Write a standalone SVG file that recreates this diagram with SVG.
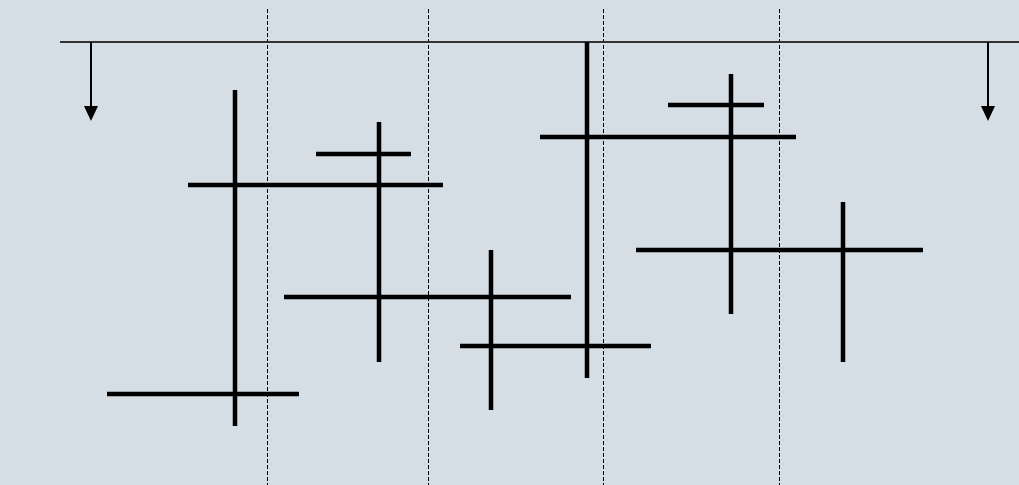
<svg xmlns="http://www.w3.org/2000/svg" width="1019" height="485" viewBox="0 0 1019 485">
<style>
.bar{stroke:#000;stroke-width:4.5;stroke-linecap:butt;fill:none}
.dash{stroke:#000;stroke-width:1;stroke-dasharray:4,2;fill:none}
.top{stroke:#333;stroke-width:2;fill:none}
.arr{stroke:#000;stroke-width:2;fill:none;marker-end:url(#ah)}
</style>
<defs>
<marker id="ah" markerWidth="15" markerHeight="14" refX="13" refY="7" viewBox="0 0 15 14" markerUnits="userSpaceOnUse" orient="auto">
<polygon points="0,0 15,7 0,14" fill="#000"/>
</marker>
</defs>
<rect width="1019" height="485" fill="#d5dde5"/>
<g id="grid">
<line class="dash" x1="267.5" y1="9" x2="267.5" y2="485"/>
<line class="dash" x1="428.5" y1="9" x2="428.5" y2="485"/>
<line class="dash" x1="603.5" y1="9" x2="603.5" y2="485"/>
<line class="dash" x1="779.5" y1="9" x2="779.5" y2="485"/>
</g>
<g id="connectors">
<line class="top" x1="60" y1="42" x2="1019" y2="42"/>
<line class="arr" x1="91" y1="42" x2="91" y2="119"/>
<line class="arr" x1="988" y1="42" x2="988" y2="119"/>
</g>
<g id="segments">
<line class="bar" x1="235" y1="90" x2="235" y2="426"/>
<line class="bar" x1="188" y1="185" x2="443" y2="185"/>
<line class="bar" x1="107" y1="394" x2="299" y2="394"/>
<line class="bar" x1="379" y1="122" x2="379" y2="362"/>
<line class="bar" x1="316" y1="154" x2="411" y2="154"/>
<line class="bar" x1="284" y1="297" x2="571" y2="297"/>
<line class="bar" x1="491" y1="250" x2="491" y2="410"/>
<line class="bar" x1="460" y1="346" x2="651" y2="346"/>
<line class="bar" x1="587" y1="42" x2="587" y2="378"/>
<line class="bar" x1="540" y1="137" x2="796" y2="137"/>
<line class="bar" x1="731" y1="74" x2="731" y2="314"/>
<line class="bar" x1="668" y1="105" x2="764" y2="105"/>
<line class="bar" x1="636" y1="250" x2="923" y2="250"/>
<line class="bar" x1="843" y1="202" x2="843" y2="362"/>
</g>
</svg>
